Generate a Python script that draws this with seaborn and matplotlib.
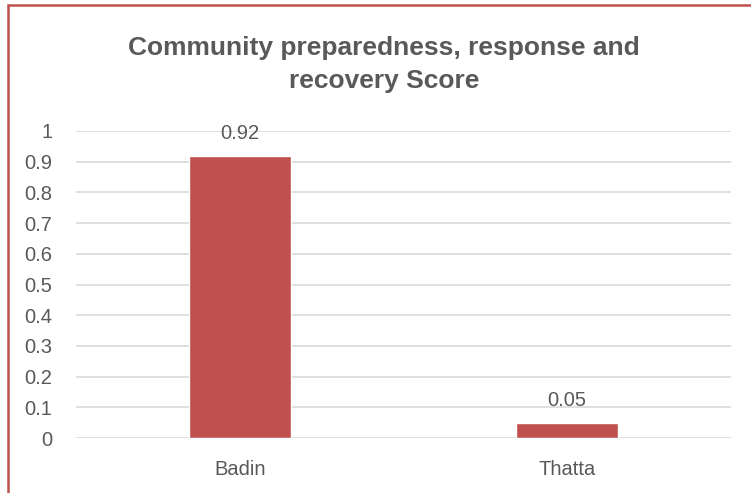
import matplotlib
matplotlib.use("Agg")
import matplotlib.pyplot as plt
import matplotlib.patches as mpatches
import seaborn as sns
import pandas as pd

categories = ["Badin", "Thatta"]
scores = [0.92, 0.05]
value_labels = ["0.92", "0.05"]
yticks = [0, 0.1, 0.2, 0.3, 0.4, 0.5, 0.6, 0.7, 0.8, 0.9, 1]
ytick_labels = ["0", "0.1", "0.2", "0.3", "0.4", "0.5", "0.6", "0.7", "0.8", "0.9", "1"]
title = "Community preparedness, response and\nrecovery Score"

sns.set_style("white")
plt.rcParams['font.family'] = ['Liberation Sans Narrow', 'Liberation Sans', 'DejaVu Sans']

BAR = "#C0504D"
TXT = "#595959"
GRID = "#D9D9D9"

df = pd.DataFrame({"District": categories, "Score": scores})

fig = plt.figure(figsize=(7.51, 4.93), dpi=100)
ax = fig.add_axes([76/751, 1-438/493, 655/751, (438-131)/493])

sns.barplot(data=df, x="District", y="Score", color=BAR, width=0.31, ax=ax,
            saturation=1, zorder=3)

ax.set_ylim(0, 1)
ax.set_yticks(yticks)
ax.set_yticklabels(ytick_labels)
ax.set_xlim(-0.5, 1.5)
ax.yaxis.grid(True, color=GRID, linewidth=1.2, zorder=0)
ax.set_axisbelow(True)
for s in ax.spines.values():
    s.set_visible(False)
ax.tick_params(axis="y", length=0, pad=17, labelsize=14.5, labelcolor=TXT)
ax.tick_params(axis="x", length=0, pad=16, labelsize=14.5, labelcolor=TXT)
ax.set_xlabel("")
ax.set_ylabel("")

for i, (v, lab) in enumerate(zip(scores, value_labels)):
    ax.annotate(lab, xy=(i, v), xytext=(0, 9), textcoords="offset points",
                ha="center", va="bottom", fontsize=14.5, color=TXT)

fig.text(384/751, 1-64.5/493, title, ha="center", va="center", fontsize=19,
         fontweight="bold", color=TXT, linespacing=1.45)

border = mpatches.Rectangle((8/751, -0.1), 1.2, 1-5/493+0.1, transform=fig.transFigure,
                            fill=False, edgecolor=BAR, linewidth=1.8, clip_on=False)
fig.patches.append(border)

fig.savefig("out.png", dpi=100)
